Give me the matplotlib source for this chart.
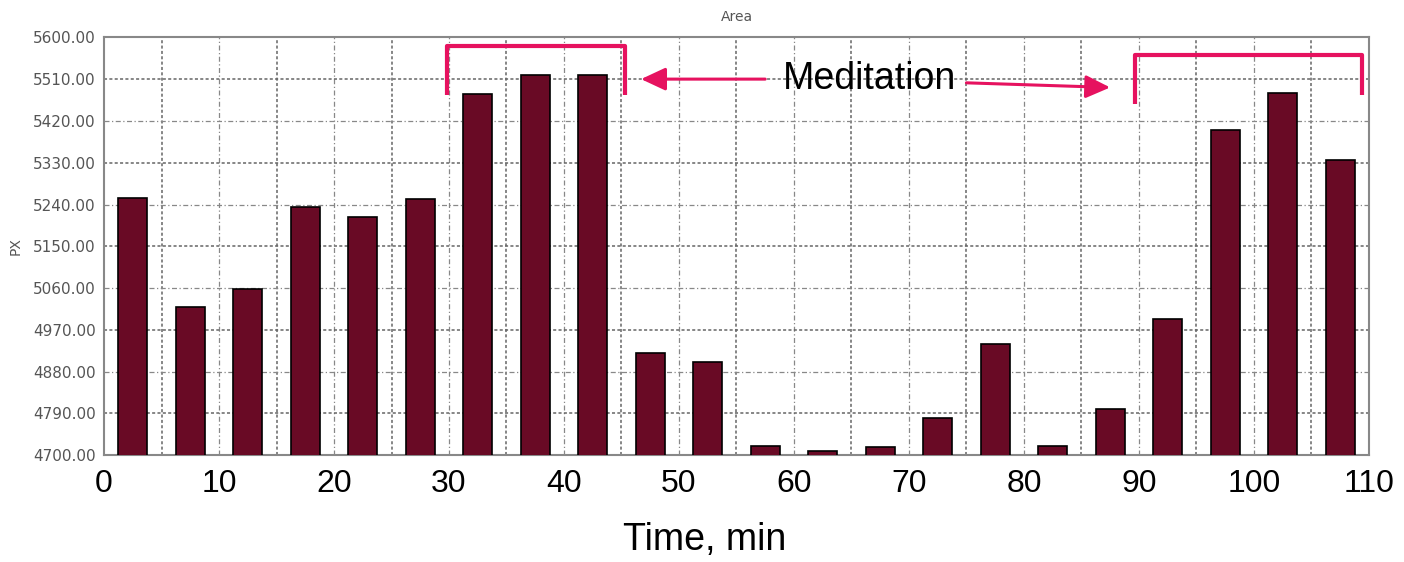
import matplotlib.pyplot as plt
import numpy as np

# 每5分钟一个柱
times = np.arange(2.5, 110, 5)
area = [5255, 5020, 5059, 5235, 5214, 5252, 5477, 5518, 5518, 4921, 4900,
        4719, 4710, 4717, 4781, 4940, 4719, 4800, 4993, 5400, 5480, 5336]
yticks = np.arange(4700, 5601, 90)
xticks = np.arange(0, 111, 10)

pink = '#e6125f'
gray = '#555555'

fig = plt.figure(figsize=(14.04, 5.62), dpi=100)
ax = fig.add_axes([0.0741, 0.1899, 0.9009, 0.7437])

ax.bar(times, area, width=2.5, bottom=0, color='#690a25', edgecolor='black',
       linewidth=1.2, zorder=3)
ax.set_xlim(0, 110)
ax.set_ylim(4700, 5600)

ax.set_yticks(yticks)
ax.set_yticklabels(['%.2f' % v for v in yticks], color=gray, fontsize=11)
ax.set_xticks(xticks)
ax.set_xticklabels([str(v) for v in xticks], fontsize=23,
                   family='Liberation Sans')
ax.tick_params(length=0)
ax.tick_params(axis='x', pad=10)
ax.tick_params(axis='y', pad=6)

# 网格线 深浅交替
for i, t in enumerate(np.arange(5, 110, 5)):
    if i % 2 == 0:
        ax.axvline(t, color='#666666', ls=(0, (2, 1.5)), lw=1.1, zorder=1)
    else:
        ax.axvline(t, color='#888888', ls=(0, (4, 2, 1, 2)), lw=0.9, zorder=1)
for i, v in enumerate(yticks[1:-1]):
    if i % 2 == 0:
        ax.axhline(v, color='#666666', ls=(0, (2, 1.5)), lw=1.1, zorder=1)
    else:
        ax.axhline(v, color='#888888', ls=(0, (4, 2, 1, 2)), lw=0.9, zorder=1)

for s in ax.spines.values():
    s.set_color('#888888')
    s.set_linewidth(1.5)

ax.set_title('Area', color=gray, fontsize=10, pad=12)
ax.set_ylabel('PX', color=gray, fontsize=10)
ax.yaxis.set_label_coords(-0.064, 0.5)
ax.set_xlabel('Time, min', fontsize=27, family='Liberation Sans', va='center')
ax.xaxis.set_label_coords(0.475, -0.203)

# 冥想区间标注
ax.plot([29.8, 29.8, 45.3, 45.3], [5476, 5581, 5581, 5476], color=pink,
        lw=3, solid_capstyle='butt', zorder=5, clip_on=False)
ax.plot([89.7, 89.7, 109.4, 109.4], [5457, 5562, 5562, 5476], color=pink,
        lw=3, solid_capstyle='butt', zorder=5, clip_on=False)
ax.text(66.6, 5510, 'Meditation', fontsize=27, family='Liberation Sans',
        ha='center', va='center', zorder=6)
ax.annotate('', xy=(46.7, 5510), xytext=(57.5, 5510),
            arrowprops=dict(arrowstyle='-|>,head_length=1.5,head_width=0.7',
                            color=pink, lw=2.2, shrinkA=0, shrinkB=0), zorder=6)
ax.annotate('', xy=(87.5, 5492), xytext=(75, 5502),
            arrowprops=dict(arrowstyle='-|>,head_length=1.5,head_width=0.7',
                            color=pink, lw=2.2, shrinkA=0, shrinkB=0), zorder=6)

fig.savefig('out.png', dpi=100, facecolor='white')
